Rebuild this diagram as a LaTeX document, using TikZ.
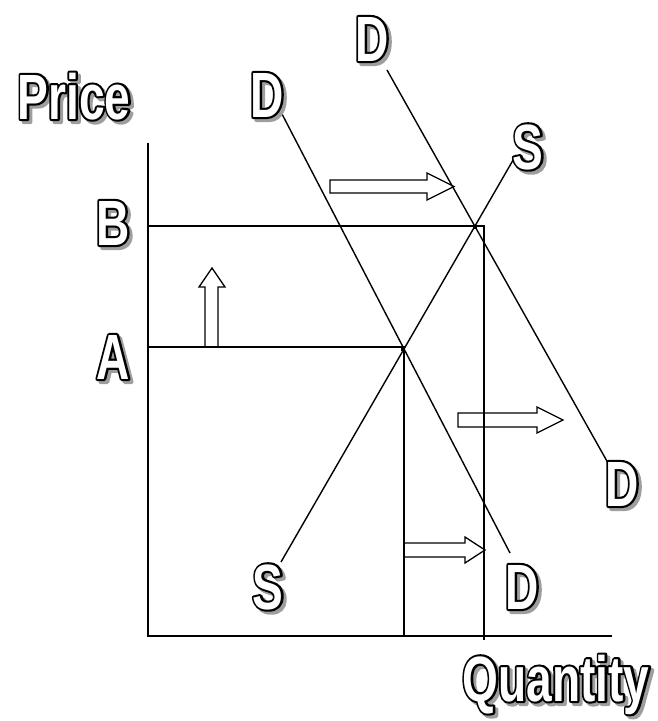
\documentclass[tikz,border=0pt]{standalone}
\usepackage{fontspec}
\newfontfamily\lblfont[FakeStretch=0.72]{Liberation Sans Bold}
\newcommand\pdfon[1]{\special{pdf:literal direct q #1}}
\newcommand\pdfoff{\special{pdf:literal direct Q}}
\newcommand\lbltext[1]{%
  \rlap{\kern3pt\lower3pt\hbox{\pdfon{2 Tr 4.2 w 1 j 0.62 0.62 0.62 RG 0.62 0.62 0.62 rg}#1\pdfoff}}%
  \rlap{\pdfon{1 Tr 4.2 w 1 j 0 0 0 RG}#1\pdfoff}%
  \pdfon{0 Tr 1 1 1 rg}#1\pdfoff}
\tikzset{
  curve/.style={line width=1.4pt, draw=black},
  blockarrow/.style={draw=black, fill=white, line width=1.3pt, line join=miter},
  lbl/.style={inner sep=0pt, anchor=base, font=\lblfont\fontsize{64}{64}\selectfont},
  eqdot/.style={fill=black, minimum size=4.5pt, inner sep=0pt, rectangle}
}
\newcommand\olbl[3]{\node[lbl] (#1) at (#2) {\lbltext{#3}};}
\begin{document}
\begin{tikzpicture}[x=1pt,y=-1pt]
\useasboundingbox (0,0) rectangle (657,721);
% key points
\coordinate (yTop) at (148,143);
\coordinate (origin) at (148,636);
\coordinate (xEnd) at (612,636);
\coordinate (Bl) at (148,226);
\coordinate (Br) at (484,226);
\coordinate (Bd) at (484,640);
\coordinate (Al) at (148,347);
\coordinate (Ar) at (404,347);
\coordinate (Ad) at (404,636);
\coordinate (S1) at (281,562);
\coordinate (S2) at (516,155);
\coordinate (D1a) at (282,114);
\coordinate (D1b) at (510,553);
\coordinate (D2a) at (387,70);
\coordinate (D2b) at (608,463);
\coordinate (E1) at (403,349);
\coordinate (E2) at (475,227);

% block arrows
\draw[blockarrow] (205,347) -- (205,287) -- (199,287) -- (212,268) -- (225,287) -- (218,287) -- (218,347) -- cycle;
\draw[blockarrow] (330,180) -- (427,180) -- (427,173) -- (454,186.5) -- (427,200) -- (427,193) -- (330,193) -- cycle;
\draw[blockarrow] (458,413) -- (537,413) -- (537,407) -- (563,420) -- (537,433) -- (537,427) -- (458,427) -- cycle;
\draw[blockarrow] (404,543) -- (465,543) -- (465,537) -- (485,550) -- (465,563) -- (465,557) -- (404,557) -- cycle;

% axes and guide lines
\draw[curve] (yTop) -- (origin) -- (xEnd);
\draw[curve] (Bl) -- (Br) -- (Bd);
\draw[curve] (Al) -- (Ar) -- (Ad);

% supply and demand
\draw[curve] (S1) -- (S2);
\draw[curve] (D1a) -- (D1b);
\draw[curve] (D2a) -- (D2b);

\node[eqdot] (eq1) at (E1) {};
\node[eqdot] (eq2) at (E2) {};

% labels
\olbl{price}{74,119}{Price}
\olbl{labB}{113,245}{B}
\olbl{labA}{113,379}{A}
\olbl{labD1}{267,117}{D}
\olbl{labD2}{372,61}{D}
\olbl{labS2}{528,169}{S}
\olbl{labD2b}{622,506}{D}
\olbl{labD1b}{522,609}{D}
\olbl{labS1}{268,609}{S}
\olbl{quant}{556,701}{Quantity}
\end{tikzpicture}
\end{document}
